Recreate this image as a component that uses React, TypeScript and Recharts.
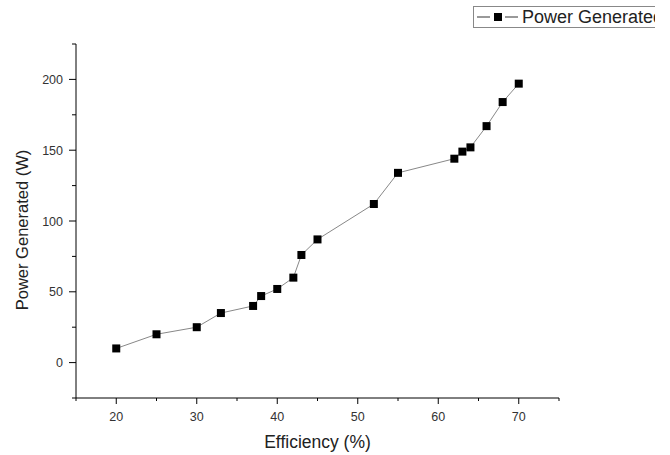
import React from "react";
import { LineChart, Line, XAxis, YAxis, Legend } from "recharts";

const efficiency = [20, 25, 30, 33, 37, 38, 40, 42, 43, 45, 52, 55, 62, 63, 64, 66, 68, 70];
const powerGenerated = [10, 20, 25, 35, 40, 47, 52, 60, 76, 87, 112, 134, 144, 149, 152, 167, 184, 197];

const xTicks = [15, 20, 25, 30, 35, 40, 45, 50, 55, 60, 65, 70, 75];
const yTicks = [-25, 0, 25, 50, 75, 100, 125, 150, 175, 200, 225];

const data = efficiency.map((e, i) => ({ eff: e, power: powerGenerated[i] }));

const FONT = "'Liberation Sans', Arial, sans-serif";

const XTick = (props: any) => {
  const { x, y, payload } = props;
  const v = payload.value;
  const major = v % 10 === 0;
  return (
    <g>
      <line x1={x} x2={x} y1={y} y2={y + (major ? 6 : 3)} stroke="#000" strokeWidth={1} />
      {major && (
        <text x={x} y={y + 23} textAnchor="middle" fontSize={12.5} fill="#333" fontFamily={FONT}>
          {v}
        </text>
      )}
    </g>
  );
};

const YTick = (props: any) => {
  const { x, y, payload } = props;
  const v = payload.value;
  const major = v % 50 === 0;
  return (
    <g>
      <line x1={x} x2={x - (major ? 7 : 4)} y1={y} y2={y} stroke="#000" strokeWidth={1} />
      {major && (
        <text x={x - 13} y={y + 4.5} textAnchor="end" fontSize={12.5} fill="#333" fontFamily={FONT}>
          {v}
        </text>
      )}
    </g>
  );
};

const Square = (props: any) => {
  const { cx, cy } = props;
  if (cx == null || cy == null) return null;
  return <rect x={cx - 4} y={cy - 4} width={8} height={8} fill="#000" />;
};

// legend box is cut at the right edge, like the source figure
const LegendBox = () => (
  <div style={{ width: 182, height: 22, overflow: "hidden" }}>
    <div
      style={{
        width: 220,
        height: 20,
        border: "1px solid #888",
        boxSizing: "content-box",
        display: "flex",
        alignItems: "center",
        fontFamily: FONT,
        fontSize: 18,
        color: "#222",
        whiteSpace: "nowrap",
      }}
    >
      <svg width={46} height={20} style={{ flex: "none" }}>
        <line x1={3} x2={16} y1={10} y2={10} stroke="#555" strokeWidth={1.2} />
        <line x1={31} x2={44} y1={10} y2={10} stroke="#555" strokeWidth={1.2} />
        <rect x={20} y={6} width={8} height={8} fill="#000" />
      </svg>
      <span style={{ marginLeft: 2 }}>Power Generated</span>
    </div>
  </div>
);

export default function App() {
  return (
    <div
      style={{
        position: "absolute",
        left: 0,
        top: 0,
        width: 670,
        height: 455,
        overflow: "hidden",
        background: "#fff",
      }}
    >
      <LineChart width={670} height={455} data={data} margin={{ top: 44, right: 111, bottom: 0, left: 0 }}>
        <XAxis
          dataKey="eff"
          type="number"
          domain={[15, 75]}
          ticks={xTicks}
          interval={0}
          tickSize={0}
          tickMargin={0}
          tickLine={false}
          height={57}
          stroke="#000"
          tick={<XTick />}
          label={{
            value: "Efficiency (%)",
            content: (p: any) => (
              <text
                x={p.viewBox.x + p.viewBox.width / 2}
                y={448}
                textAnchor="middle"
                fontSize={17.5}
                fill="#222"
                fontFamily={FONT}
              >
                Efficiency (%)
              </text>
            ),
          }}
        />
        <YAxis
          dataKey="power"
          type="number"
          domain={[-25, 225]}
          ticks={yTicks}
          interval={0}
          tickSize={0}
          tickMargin={0}
          tickLine={false}
          width={76}
          stroke="#000"
          tick={<YTick />}
          label={{
            value: "Power Generated (W)",
            content: () => (
              <text
                x={28}
                y={230}
                transform="rotate(-90 28 230)"
                textAnchor="middle"
                fontSize={16.5}
                fill="#222"
                fontFamily={FONT}
              >
                Power Generated (W)
              </text>
            ),
          }}
        />
        <Legend
          verticalAlign="middle"
          layout="horizontal"
          content={<LegendBox />}
          wrapperStyle={{ position: "absolute", top: 6, left: 473, width: 182 }}
        />
        <Line
          dataKey="power"
          name="Power Generated"
          type="linear"
          stroke="#888"
          strokeWidth={1}
          dot={<Square />}
          activeDot={false}
          isAnimationActive={false}
        />
      </LineChart>
    </div>
  );
}
